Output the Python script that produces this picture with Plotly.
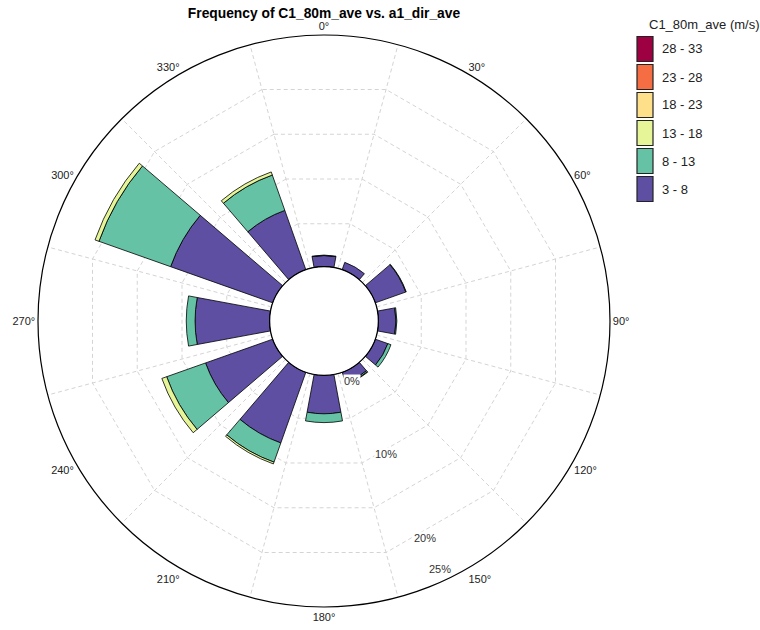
import math
import plotly.graph_objects as go

# Wind direction sectors (degrees) and frequency (%) per speed bin
directions = [0, 30, 60, 90, 120, 150, 180, 210, 240, 270, 300, 330]
speed_bins = ["3 - 8", "8 - 13", "13 - 18", "18 - 23", "23 - 28", "28 - 33"]
bin_colors = ["#5E4FA2", "#66C2A5", "#E6F598", "#FEE08B", "#F46D43", "#9E0142"]

freq_3_8 = [1.2, 0.85, 3.5, 1.9, 1.45, 1.2, 4.15, 8.1, 7.7, 8.05, 11.7, 6.8]
freq_8_13 = [0.05, 0.0, 0.05, 0.1, 0.35, 0.15, 0.95, 2.2, 4.45, 0.95, 8.2, 4.05]
freq_13_18 = [0.0, 0.0, 0.0, 0.0, 0.0, 0.05, 0.0, 0.2, 0.55, 0.0, 0.45, 0.35]
freq_18_23 = [0.0] * 12
freq_23_28 = [0.0] * 12
freq_28_33 = [0.0] * 12
freqs = [freq_3_8, freq_8_13, freq_13_18, freq_18_23, freq_23_28, freq_28_33]

radial_ticks = [0, 10, 20, 25]
radial_labels = ["0%", "10%", "20%", "25%"]
grid_levels = [5, 10, 15, 20]
angle_labels = [f"{d}°" for d in directions]

W, H = 760, 630
FONT = "Liberation Sans, Arial, sans-serif"
R_MAX = 25
HOLE = 0.19
GRID = "#d4d4d4"
LABEL_BEARING = 155

# polar domain: centre (324, 321) px, radius 286 px
cx, cy, rad = 324, 321, 286
dom_x = [(cx - rad) / W, (cx + rad) / W]
dom_y = [1 - (cy + rad) / H, 1 - (cy - rad) / H]

fig = go.Figure()

# grid layer: dodecagon rings with vertices on the spokes between sectors
spoke_cats = [str(a) for a in range(15, 360, 30)]
fig.add_trace(go.Scatterpolar(
    r=[0], theta=[spoke_cats[0]], mode="markers", marker=dict(opacity=0),
    hoverinfo="skip", showlegend=False, subplot="polar"))

# stacked frequency bars
for name, vals, col in zip(speed_bins, freqs, bin_colors):
    fig.add_trace(go.Barpolar(
        r=vals, theta=directions, width=21, name=name,
        marker=dict(color=col, line=dict(color="black", width=0.8)),
        showlegend=False, subplot="polar2"))

# inner ring edge
ring_theta = list(range(0, 361))
fig.add_trace(go.Scatterpolar(
    r=[0] * len(ring_theta), theta=ring_theta, mode="lines",
    line=dict(color="black", width=1), cliponaxis=False,
    hoverinfo="skip", showlegend=False, subplot="polar2"))

fig.update_layout(
    width=W, height=H,
    margin=dict(l=0, r=0, t=0, b=0),
    paper_bgcolor="white",
    font=dict(family=FONT, size=11, color="#222"),
    title=dict(text="Frequency of C1_80m_ave vs. a1_dir_ave",
               x=cx / W, xanchor="center", y=1 - 13 / H, yanchor="middle",
               font=dict(family=FONT, size=13.8, color="black", weight="bold")),
    polar=dict(
        domain=dict(x=dom_x, y=dom_y),
        hole=HOLE, gridshape="linear", bgcolor="white",
        radialaxis=dict(range=[0, R_MAX], tickvals=grid_levels, showticklabels=False,
                        ticks="", showline=False, gridcolor=GRID, griddash="4px,3px",
                        gridwidth=1),
        angularaxis=dict(type="category", categoryarray=spoke_cats, categoryorder="array",
                         direction="clockwise", rotation=75, showticklabels=False,
                         ticks="", showline=False, gridcolor=GRID, griddash="4px,3px",
                         gridwidth=1),
    ),
    polar2=dict(
        domain=dict(x=dom_x, y=dom_y),
        hole=HOLE, bgcolor="rgba(0,0,0,0)", barmode="stack",
        radialaxis=dict(range=[0, R_MAX], showgrid=False, showticklabels=False,
                        ticks="", showline=False),
        angularaxis=dict(direction="clockwise", rotation=90, tickmode="array",
                         tickvals=directions, ticktext=angle_labels, showgrid=False,
                         ticks="", showline=True, linecolor="black", linewidth=1.2,
                         tickfont=dict(family=FONT, size=11, color="#222")),
    ),
)

# radial scale labels along one bearing, placed with the same radial scale
hole_px = HOLE * rad
label_nudge = [12, 0, 0, -12]  # keep end labels clear of the rings
b = math.radians(LABEL_BEARING)
for val, txt, nudge in zip(radial_ticks, radial_labels, label_nudge):
    r_px = hole_px + val / R_MAX * (rad - hole_px) + nudge
    px = cx + r_px * math.sin(b)
    py = cy - r_px * math.cos(b)
    fig.add_annotation(text=txt, x=px / W, y=1 - py / H, xref="paper", yref="paper",
                       xanchor="center", yanchor="middle", showarrow=False,
                       bgcolor="white", borderpad=0,
                       font=dict(family=FONT, size=11, color="#333"))

# key: colour boxes with speed ranges, highest bin on top
fig.add_annotation(text="C1_80m_ave (m/s)", x=647 / W, y=1 - 25 / H,
                   xref="paper", yref="paper", xanchor="left", yanchor="middle",
                   showarrow=False, font=dict(family=FONT, size=13, color="#222"))
box_x0, box_x1, first_mid, pitch, box_h = 637, 653, 49, 28, 25
for i, (name, col) in enumerate(zip(reversed(speed_bins), reversed(bin_colors))):
    ymid = first_mid + i * pitch
    fig.add_shape(type="rect", xref="paper", yref="paper",
                  x0=box_x0 / W, x1=box_x1 / W,
                  y0=1 - (ymid + box_h / 2) / H, y1=1 - (ymid - box_h / 2) / H,
                  fillcolor=col, line=dict(color="#222", width=1.2))
    fig.add_annotation(text=name, x=660 / W, y=1 - ymid / H,
                       xref="paper", yref="paper", xanchor="left", yanchor="middle",
                       showarrow=False, font=dict(family=FONT, size=13, color="#222"))

fig.write_html("out.html")
